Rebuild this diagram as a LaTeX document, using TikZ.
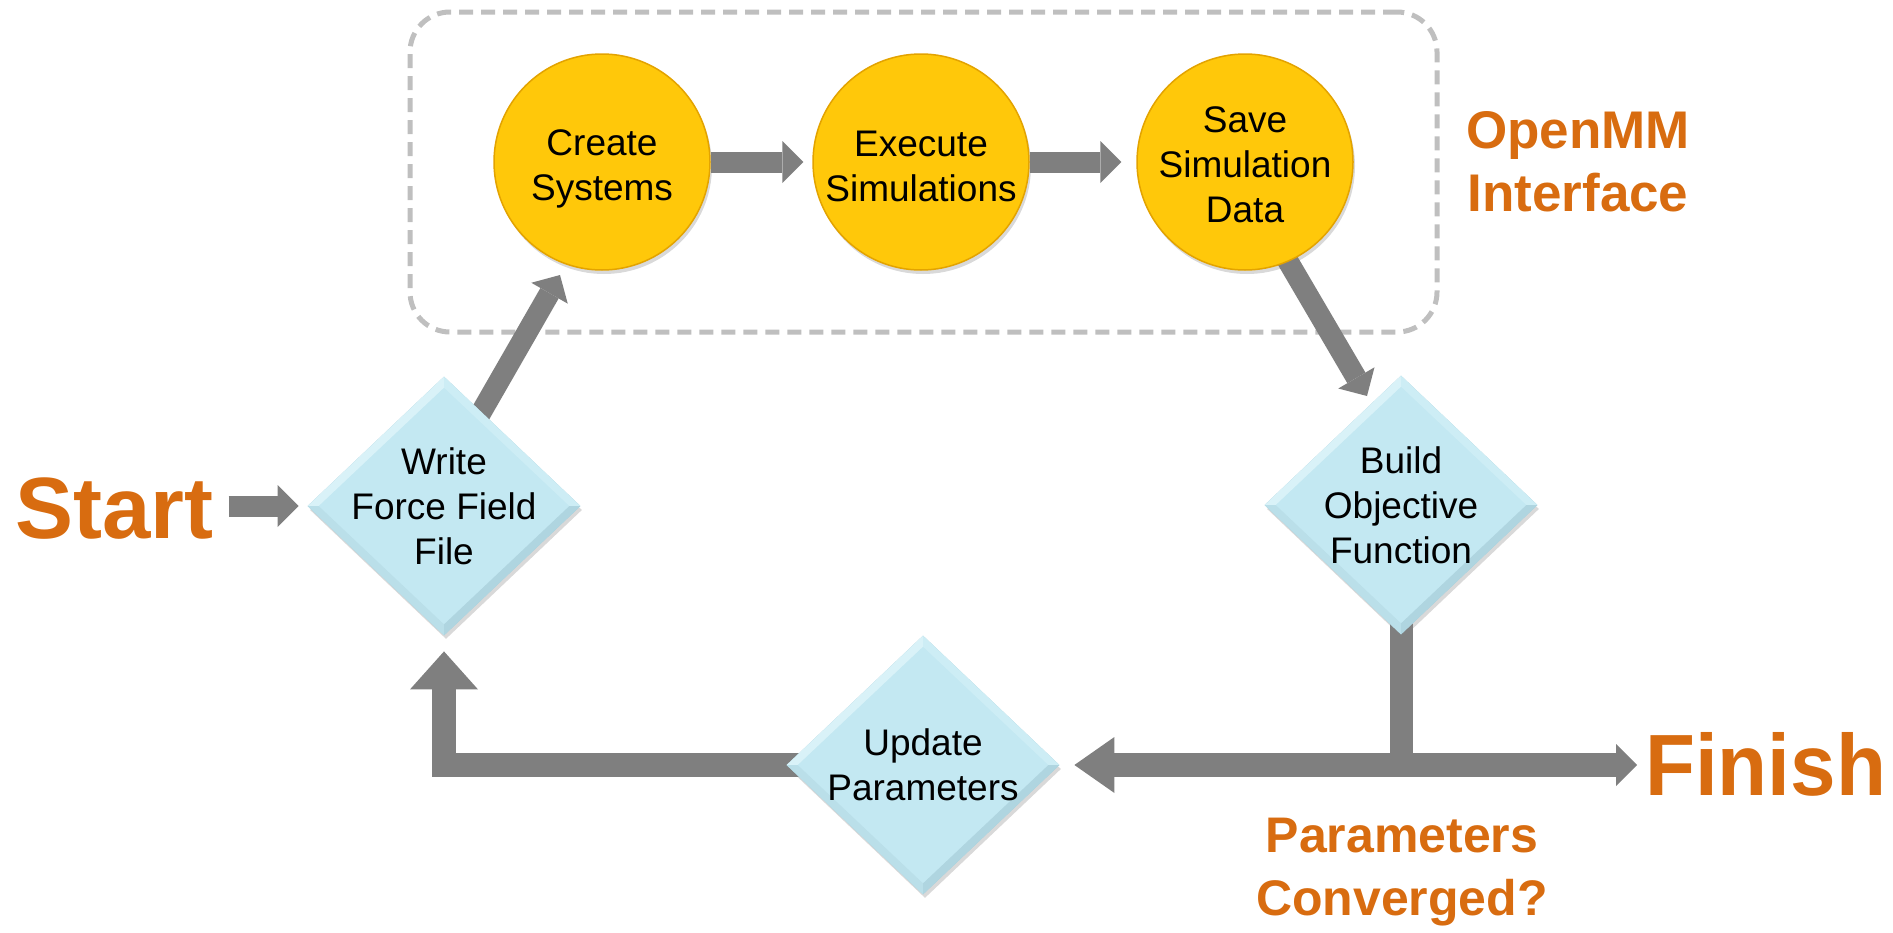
\documentclass[tikz,border=0pt]{standalone}
\usepackage{fontspec}
\setmainfont{Liberation Sans}
\newfontfamily\finfont{Liberation Sans}[FakeStretch=0.94]
\usetikzlibrary{shapes.geometric,arrows.meta,shadows,backgrounds,calc}
\definecolor{arrGray}{HTML}{7F7F7F}
\definecolor{dashGray}{HTML}{BFBFBF}
\definecolor{circFill}{HTML}{FFC80A}
\definecolor{circEdge}{HTML}{E3A300}
\definecolor{diaFill}{HTML}{C3E8F2}
\definecolor{diaEdge}{HTML}{A3CCD8}
\definecolor{bvTL}{HTML}{D9F2F8}
\definecolor{bvTR}{HTML}{CDEDF5}
\definecolor{bvBL}{HTML}{BADFE9}
\definecolor{bvBR}{HTML}{AFD5E0}
\definecolor{orangeTxt}{HTML}{D86C10}
\newcommand\diabevel[1]{%
  \fill[bvTL] (#1.north) -- (#1.west) -- ([shift={(11,0)}]#1.west) -- ([shift={(0,11)}]#1.north) -- cycle;
  \fill[bvTR] (#1.north) -- (#1.east) -- ([shift={(-11,0)}]#1.east) -- ([shift={(0,11)}]#1.north) -- cycle;
  \fill[bvBL] (#1.south) -- (#1.west) -- ([shift={(11,0)}]#1.west) -- ([shift={(0,-11)}]#1.south) -- cycle;
  \fill[bvBR] (#1.south) -- (#1.east) -- ([shift={(-11,0)}]#1.east) -- ([shift={(0,-11)}]#1.south) -- cycle;
}
\begin{document}
\begin{tikzpicture}[x=1pt,y=-1pt,
  circ/.style={circle, minimum size=216pt, inner sep=0pt, fill=circFill, draw=circEdge, line width=1.5pt,
    drop shadow={shadow xshift=2pt, shadow yshift=-4pt, opacity=0.3}},
  dia/.style={diamond, minimum width=272pt, minimum height=258pt, inner sep=0pt, fill=diaFill, draw=diaEdge, line width=0.8pt,
    drop shadow={shadow xshift=2pt, shadow yshift=-4pt, opacity=0.3}},
  ntext/.style={align=center, inner sep=0pt, font=\fontsize{37}{45}\selectfont},
  otext/.style={text=orangeTxt, inner sep=0pt},
  smallarr/.style={draw=arrGray, line width=21pt, -{Triangle[width=42pt,length=21pt,line width=0pt]}},
  bigarr/.style={draw=arrGray, line width=24pt, line join=miter},
  dashbox/.style={draw=dashGray, line width=5pt, dash pattern=on 14pt off 8pt, rounded corners=40pt}
]
\path[use as bounding box] (0,0) rectangle (1893,932);

% circles
\node[circ] (c) at (602,162) {};
\node[circ] (e) at (921,162) {};
\node[circ] (s) at (1245,162) {};
\node[ntext] (ct) at ([shift={(0,7)}]c.center) {Create\\Systems};
\node[ntext] (et) at ([shift={(0,4)}]e.center) {Execute\\Simulations};
\node[ntext] (sst) at ([shift={(0,3)}]s.center) {Save\\Simulation\\Data};

% diamonds
\node[dia] (w) at (444,506) {};
\node[dia] (b) at (1401,505) {};
\node[dia] (u) at (923,765) {};
\diabevel{w}
\diabevel{b}
\diabevel{u}
\node[ntext] (wt) at (w.center) {Write\\Force Field\\File};
\node[ntext] (bt) at (b.center) {Build\\Objective\\Function};
\node[ntext] (ut) at (u.center) {Update\\Parameters};

% orange labels
\node[otext, anchor=base west, font=\bfseries\fontsize{87}{90}\selectfont] (st) at (15,538) {Start};
\node[otext, anchor=base west, font=\finfont\bfseries\fontsize{87}{90}\selectfont] (fin) at (1645,795) {Finish};
\node[otext, align=center, font=\bfseries\fontsize{53}{63}\selectfont] (omm) at (1578,162) {OpenMM\\Interface};
\node[otext, align=center, font=\bfseries\fontsize{50}{63}\selectfont] (pc) at (1402,872) {Parameters\\Converged?};

\coordinate (junc) at (b |- u);
\coordinate (fintip) at (1637,765);
\coordinate (wtip) at ([shift={(0,16)}]w.south);

\begin{scope}[on background layer]
  \node[dashbox, minimum width=1027pt, minimum height=320pt] (grp) at (923.5,172) {};
  \draw[smallarr] ([shift={(-79,0)}]w.west) -- ([shift={(-9,0)}]w.west);
  \draw[smallarr] ([shift={(27,-76)}]w.center) -- ([shift={(-42,113)}]c.center);
  \draw[smallarr] (c.east) -- ([shift={(-9,0)}]e.west);
  \draw[smallarr] (e.east) -- ([shift={(-15,0)}]s.west);
  \draw[smallarr] ([shift={(20,60)}]s.center) -- ([shift={(-34,-109)}]b.center);
  \draw[draw=arrGray, line width=23pt] (b.center) -- (junc);
  \draw[bigarr, -{Triangle[width=56pt,length=40pt,line width=0pt]}] (junc) -- ([shift={(15,0)}]u.east);
  \draw[bigarr, -{Triangle[width=42pt,length=21pt,line width=0pt]}] ([shift={(-12,0)}]junc) -- (fintip);
  \draw[bigarr, -{Triangle[width=68pt,length=38pt,line width=0pt]}] (u.center) -| (wtip);
\end{scope}
\end{tikzpicture}
\end{document}
